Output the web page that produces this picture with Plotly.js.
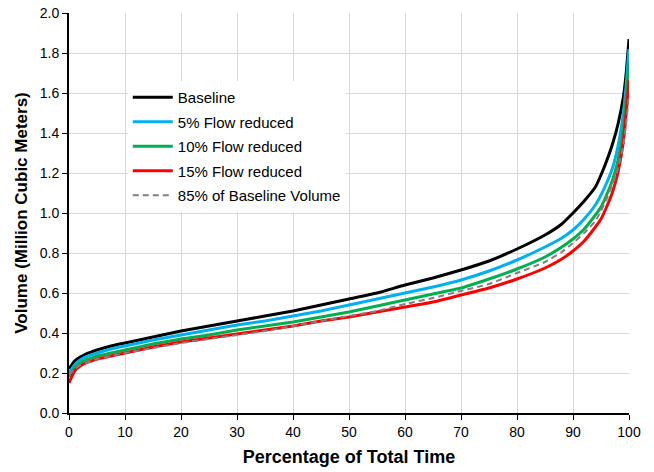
<!DOCTYPE html>
<html><head><meta charset="utf-8">
<script src="https://cdn.plot.ly/plotly-3.0.1.min.js"></script>
<style>html,body{margin:0;padding:0;background:#fff;}#c{width:654px;height:472px;}</style>
</head><body><div id="c"></div>
<script>
const pct = [0,1,2,3,4,5,7.5,10,15,20,25,30,35,40,45,50,55,60,65,70,75,80,85,88,90,92,94,95,96,97,98,99,99.5,100];
const baseline = [0.22,0.26,0.28,0.295,0.305,0.315,0.335,0.35,0.38,0.41,0.435,0.46,0.485,0.51,0.54,0.57,0.60,0.64,0.675,0.715,0.76,0.82,0.89,0.945,1.0,1.06,1.13,1.19,1.26,1.34,1.44,1.58,1.70,1.87];
const flow5 = [0.20,0.24,0.265,0.28,0.29,0.30,0.32,0.335,0.365,0.39,0.415,0.44,0.46,0.485,0.51,0.54,0.57,0.60,0.63,0.665,0.71,0.765,0.83,0.875,0.915,0.97,1.04,1.09,1.15,1.22,1.33,1.50,1.64,1.82];
const flow10 = [0.18,0.225,0.25,0.265,0.275,0.285,0.30,0.315,0.345,0.37,0.39,0.415,0.435,0.455,0.48,0.505,0.535,0.565,0.595,0.625,0.67,0.72,0.78,0.83,0.87,0.92,0.99,1.03,1.09,1.16,1.26,1.42,1.57,1.75];
const flow15 = [0.15,0.21,0.235,0.25,0.26,0.27,0.285,0.30,0.33,0.355,0.375,0.395,0.415,0.435,0.46,0.48,0.505,0.53,0.555,0.59,0.625,0.67,0.725,0.77,0.81,0.86,0.93,0.97,1.03,1.10,1.20,1.36,1.50,1.665];
const base85 = [0.19,0.22,0.24,0.25,0.26,0.27,0.285,0.30,0.325,0.35,0.37,0.39,0.41,0.435,0.46,0.485,0.51,0.545,0.575,0.61,0.645,0.70,0.755,0.805,0.85,0.90,0.96,1.01,1.07,1.14,1.22,1.34,1.45,1.59];
const names = ["Baseline","5% Flow reduced","10% Flow reduced","15% Flow reduced","85% of Baseline Volume"];
const xTicks = [0,10,20,30,40,50,60,70,80,90,100];
const yTicks = [0,0.2,0.4,0.6,0.8,1.0,1.2,1.4,1.6,1.8,2.0];

const series = [baseline, flow5, flow10, flow15, base85];
const colors = ["#000000","#00B0F0","#00B050","#FF0000","#808080"];
const traces = series.map((s,i)=>({
  x: pct, y: s, type:"scatter", mode:"lines", name: names[i], legendgroup:"g"+i,
  line:{color:colors[i], width: i===4?2:3, dash: i===4?"6px,4px":"solid", shape:"spline", smoothing:0.5}
}));
const layout = {
  width:654, height:472,
  margin:{l:69, r:25, t:13, b:59},
  paper_bgcolor:"#fff", plot_bgcolor:"#fff",
  font:{family:"Liberation Sans, Arial, sans-serif", size:14, color:"#000"},
  showlegend:true,
  legend:{x:0.105, y:0.83, xanchor:"left", yanchor:"top", bgcolor:"#fff", borderwidth:0,
    font:{size:15}, itemwidth:40, traceorder:"grouped", tracegroupgap:2},
  xaxis:{range:[0,100], tickvals:xTicks, ticktext:xTicks.map(String), showgrid:true, gridcolor:"#D9D9D9", gridwidth:1,
    showline:true, linecolor:"#000", linewidth:2, ticks:"outside", ticklen:5, tickcolor:"#000", zeroline:false,
    title:{text:"<b>Percentage of Total Time</b>", font:{size:18}, standoff:12}},
  yaxis:{range:[0,2], tickvals:yTicks, ticktext:yTicks.map(v=>v.toFixed(1)), showgrid:true, gridcolor:"#D9D9D9", gridwidth:1,
    showline:true, linecolor:"#000", linewidth:2, ticks:"outside", ticklen:5, tickcolor:"#000", zeroline:false,
    title:{text:"<b>Volume (Million Cubic Meters)</b>", font:{size:17}, standoff:8}}
};
Plotly.newPlot("c", traces, layout, {displayModeBar:false, staticPlot:true});
</script></body></html>
